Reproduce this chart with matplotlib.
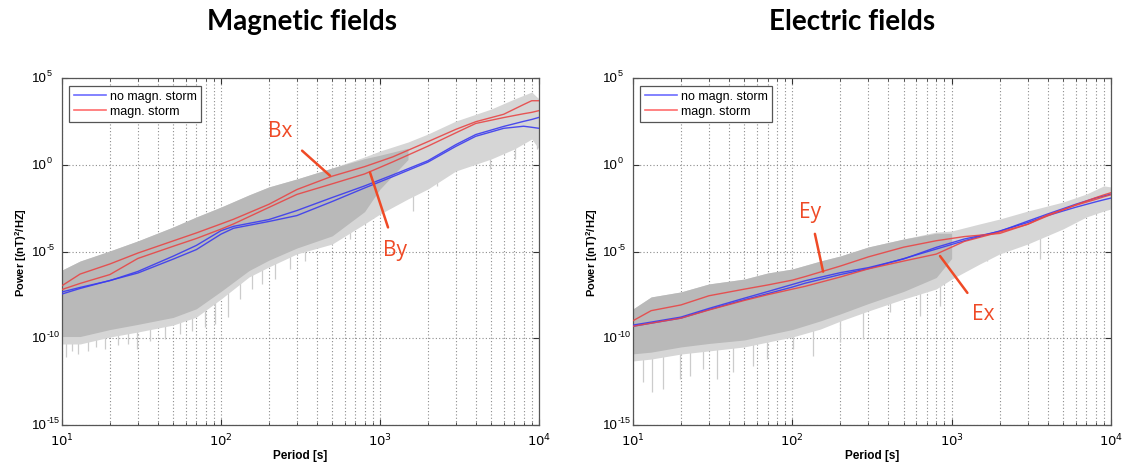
import numpy as np
import matplotlib
matplotlib.use("Agg")
import matplotlib.pyplot as plt
import matplotlib.transforms as mtransforms
from matplotlib.ticker import LogLocator, NullLocator, FixedLocator, NullFormatter
from matplotlib.lines import Line2D

plt.rcParams["mathtext.fontset"] = "custom"
plt.rcParams["mathtext.rm"] = "Liberation Sans"
plt.rcParams["mathtext.it"] = "Liberation Sans:italic"
plt.rcParams["mathtext.bf"] = "Liberation Sans:bold"

# ---------------- data (values are log10 of power) ----------------
periods = [10, 13, 20, 30, 50, 70, 100, 120, 200, 300, 500, 800, 1200,
           2000, 3000, 4000, 6000, 8000, 9000, 10000]

# Magnetic fields
bx_storm_log = [-6.97, -6.30, -5.72, -5.09, -4.39, -3.93, -3.41, -3.14, -2.28, -1.43,
                -0.66, -0.11, 0.45, 1.33, 2.04, 2.48, 2.91, 3.47, 3.69, 3.69]
by_storm_log = [-7.19, -6.84, -6.33, -5.40, -4.70, -4.25, -3.71, -3.41, -2.46, -1.71,
                -1.10, -0.53, 0.16, 1.07, 1.84, 2.38, 2.72, 2.94, 3.02, 3.12]
bx_quiet_log = [-7.33, -7.07, -6.68, -6.15, -5.27, -4.65, -3.80, -3.55, -3.16, -2.64,
                -1.89, -1.22, -0.59, 0.23, 1.16, 1.74, 2.21, 2.50, 2.61, 2.73]
by_quiet_log = [-7.45, -7.13, -6.67, -6.24, -5.44, -4.89, -4.00, -3.66, -3.27, -2.93,
                -2.12, -1.34, -0.69, 0.15, 1.06, 1.64, 2.10, 2.22, 2.16, 2.10]

# Electric fields
ey_storm_log = [-8.99, -8.41, -8.08, -7.55, -7.17, -6.93, -6.65, -6.45, -5.84, -5.31,
                -4.75, -4.38, -4.14, -3.96, -3.43, -2.89, -2.34, -2.00, -1.85, -1.73]
ex_storm_log = [-9.31, -9.13, -8.84, -8.37, -7.82, -7.49, -7.17, -7.01, -6.47, -6.00,
                -5.55, -5.15, -4.42, -3.88, -3.43, -2.95, -2.31, -1.90, -1.74, -1.61]
ey_quiet_log = [-9.24, -9.07, -8.78, -8.28, -7.69, -7.31, -6.90, -6.69, -6.22, -5.93,
                -5.43, -4.76, -4.28, -3.84, -3.25, -2.84, -2.28, -1.92, -1.80, -1.69]
ex_quiet_log = [-9.31, -9.13, -8.84, -8.35, -7.78, -7.43, -7.05, -6.83, -6.33, -5.99,
                -5.41, -4.86, -4.38, -3.82, -3.33, -2.93, -2.45, -2.14, -2.02, -1.92]

# Grey cloud of individual spectra: full (light) envelope
cloud_periods = [10, 13, 20, 30, 50, 70, 100, 150, 200, 300, 500, 800, 1000,
                 1500, 2000, 3000, 5000, 7000, 9000, 10000]
b_cloud_upper_log = [-6.07, -5.55, -4.97, -4.39, -3.59, -3.01, -2.44, -1.74, -1.28, -0.82,
                     -0.19, 0.45, 0.79, 1.31, 1.77, 2.52, 3.21, 3.79, 4.19, 3.79]
b_cloud_lower_log = [-10.33, -10.33, -9.93, -9.64, -9.24, -8.78, -7.74, -6.47, -5.89, -5.14,
                     -4.57, -3.41, -2.84, -1.97, -1.40, -0.36, 0.33, 0.91, 1.48, 0.91]
e_cloud_upper_log = [-8.31, -7.62, -7.33, -6.87, -6.59, -6.24, -6.01, -5.55, -5.26, -4.74,
                     -4.28, -3.88, -3.82, -3.41, -3.13, -2.67, -2.15, -1.69, -1.22, -1.28]
e_cloud_lower_log = [-11.31, -11.20, -10.91, -10.73, -10.50, -10.22, -9.93, -9.47, -9.01, -8.43,
                     -7.74, -7.16, -6.59, -5.72, -5.14, -4.57, -3.70, -3.01, -2.67, -2.55]

# Dense core of the grey cloud
b_core_periods = [10, 13, 20, 30, 50, 70, 100, 150, 200, 300, 500, 800, 1000, 1500]
b_core_upper_log = [-6.07, -5.55, -4.97, -4.39, -3.59, -3.01, -2.44, -1.74, -1.28, -0.82,
                    -0.19, 0.35, 0.55, 0.95]
b_core_lower_log = [-9.9, -9.9, -9.5, -9.2, -8.8, -8.3, -7.3, -6.1, -5.5, -4.8,
                    -4.1, -2.7, -1.4, 0.3]
e_core_periods = [10, 13, 20, 30, 50, 70, 100, 150, 200, 300, 500, 800, 1000]
e_core_upper_log = [-8.31, -7.62, -7.33, -6.87, -6.59, -6.24, -6.01, -5.55, -5.26, -4.74,
                    -4.28, -3.95, -3.95]
e_core_lower_log = [-10.9, -10.8, -10.5, -10.3, -10.1, -9.8, -9.5, -9.0, -8.6, -8.0,
                    -7.3, -6.5, -5.4]

# Deep downward spikes of the grey spectra
b_spike_periods = [10.6, 11.6, 12.6, 14.6, 16.4, 18.6, 22.5, 26, 29.6, 35.8, 44.4, 55.2,
                   65.7, 79.3, 91.6, 111, 132, 157, 181, 219, 272, 337, 464, 560, 648,
                   930, 1614, 1864, 2280, 3046, 4920, 7070, 9700]
b_spike_min_log = [-11.08, -10.73, -10.91, -10.73, -10.50, -10.62, -10.39, -10.33, -10.62,
                   -10.16, -10.04, -9.76, -9.58, -9.35, -9.18, -8.78, -7.74, -7.16, -6.87,
                   -6.59, -6.01, -5.55, -2.95, -3.70, -4.28, -2.84, -2.67, -1.40, -1.22,
                   -0.24, -0.24, 0.33, 0.91]
b_spike_top_log = [-9.0, -9.0, -9.0, -9.0, -8.8, -8.6, -8.4, -8.2, -8.0, -7.7, -7.4, -7.0,
                   -6.7, -6.4, -6.0, -5.6, -5.2, -4.9, -4.6, -4.3, -3.9, -3.5, -1.5, -1.2,
                   -1.0, -0.5, 0.5, 0.8, 1.0, 1.6, 2.2, 2.6, 2.9]
e_spike_periods = [11.6, 13.2, 15.4, 19.7, 22.8, 27.5, 33.7, 42.4, 56.6, 69.3, 101, 135,
                   199, 278, 410, 634, 846, 1667, 3590]
e_spike_min_log = [-12.52, -13.10, -12.93, -12.35, -12.18, -11.77, -12.35, -11.95, -11.60,
                   -11.20, -10.62, -11.02, -10.22, -10.04, -8.49, -8.72, -8.14, -5.55, -5.43]
e_spike_top_log = [-9.5, -9.4, -9.3, -9.1, -9.0, -8.8, -8.7, -8.5, -8.3, -8.1, -7.7, -7.4,
                   -7.0, -6.6, -6.1, -5.6, -5.3, -4.5, -3.5]

titles = ["Magnetic fields", "Electric fields"]
legend_labels = ["no magn. storm", "magn. storm"]
x_label = "Period [s]"
y_label = "Power [(nT)$^\\mathbf{2}$/HZ]"
y_tick_exponents = [-15, -10, -5, 0, 5]

# annotations: (text, text position (period, log10 power), target (period, log10 power))
b_annotations = [("Bx", (235, 1.95), (485, -0.63)),
                 ("By", (1250, -4.91), (865, -0.44))]
e_annotations = [("Ey", (129, -2.67), (156, -6.16)),
                 ("Ex", (1574, -8.6), (845, -5.26))]

# ---------------- style ----------------
BLUE = "#3b3bef"
RED = "#e84646"
GREY = "#b9b9b9"
LIGHT = "#d6d6d6"
SPIKE = "#cccccc"
ANN = "#ef4a26"

W, H = 1122, 464
fig = plt.figure(figsize=(W / 100, H / 100), dpi=100)
ax_b = fig.add_axes([62 / W, 1 - 426 / H, 477 / W, 347 / H])
ax_e = fig.add_axes([633 / W, 1 - 426 / H, 478 / W, 347 / H])

P = np.array(periods, dtype=float)
CP = np.array(cloud_periods, dtype=float)


def pw(v):
    return 10.0 ** np.asarray(v, dtype=float)


def draw(ax, up, lo, cper, cup, clo, sp, smin, stop, storm, quiet, anns, title_x, title):
    ax.set_xscale("log")
    ax.set_yscale("log")
    ax.set_xlim(10, 1e4)
    ax.set_ylim(1e-15, 1e5)
    ax.set_axisbelow(True)
    ax.vlines(sp, pw(smin), pw(stop), color=SPIKE, lw=0.9, zorder=1)
    ax.fill_between(CP, pw(lo), pw(up), color=LIGHT, lw=0, zorder=1.1)
    ax.fill_between(cper, pw(clo), pw(cup), color=GREY, lw=0, zorder=1.2)
    for s in quiet:
        ax.plot(P, pw(s), color=BLUE, lw=1.0, alpha=0.9, zorder=3)
    for s in storm:
        ax.plot(P, pw(s), color=RED, lw=1.0, alpha=0.9, zorder=3)
    for txt, tp, tg in anns:
        ax.annotate(txt, xy=(tg[0], 10 ** tg[1]), xytext=(tp[0], 10 ** tp[1]),
                    fontsize=15, color=ANN, family="Open Sans", ha="center", va="center",
                    arrowprops=dict(arrowstyle="-", color=ANN, lw=1.8, shrinkA=7, shrinkB=0),
                    zorder=5)

    ax.yaxis.set_major_locator(FixedLocator(pw(y_tick_exponents)))
    ax.yaxis.set_minor_locator(NullLocator())
    ax.yaxis.set_major_formatter(NullFormatter())
    ax.xaxis.set_major_locator(LogLocator(base=10, numticks=10))
    ax.xaxis.set_minor_locator(LogLocator(base=10, subs=np.arange(2, 10), numticks=20))
    ax.grid(True, which="major", axis="both", ls=(0, (1, 2)), color="#8c8c8c", lw=0.8)
    ax.grid(True, which="minor", axis="x", ls=(0, (1, 2)), color="#8c8c8c", lw=0.8)
    ax.tick_params(which="both", direction="in", top=True, right=True, color="#333333")
    ax.tick_params(which="major", length=4, labelsize=9.5, pad=5)
    ax.tick_params(which="minor", length=2)
    for s in ax.spines.values():
        s.set_color("#555555")
        s.set_linewidth(0.9)

    # MATLAB-style left aligned y tick labels: "10" plus a small raised exponent
    trans = mtransforms.blended_transform_factory(ax.transAxes, ax.transData)
    trans_exp = mtransforms.offset_copy(trans, fig=fig, x=15, y=5, units="dots")
    for e in y_tick_exponents:
        ax.text(-30 / 477, 10.0 ** e, "10", transform=trans, ha="left", va="center",
                fontsize=9.5, family="Liberation Sans", clip_on=False)
        ax.text(-30 / 477, 10.0 ** e, str(e), transform=trans_exp, ha="left",
                va="center", fontsize=6.5, family="Liberation Sans", clip_on=False)

    ax.set_xlabel(x_label, fontsize=8.5, fontweight="bold", family="Liberation Sans")
    ax.xaxis.set_label_coords(0.5, -30 / 347)
    ax.xaxis.label.set_va("center")
    ax.set_ylabel(y_label, fontsize=8, fontweight="bold", family="Liberation Sans")
    ax.yaxis.set_label_coords(-41 / 477, 0.5)
    ax.yaxis.label.set_va("center")

    handles = [Line2D([], [], color="#6d6dff", lw=1.2), Line2D([], [], color="#ff6d6d", lw=1.2)]
    leg = ax.legend(handles, legend_labels, loc="upper left", bbox_to_anchor=(0.01, 0.985),
                    frameon=True, fancybox=False, framealpha=1,
                    edgecolor="#555555", handlelength=2.6, handletextpad=0.3,
                    borderpad=0.35, labelspacing=0.25, borderaxespad=0.2,
                    prop={"family": "Liberation Sans", "size": 9})
    leg.get_frame().set_linewidth(0.9)
    fig.text(title_x, 1 - 22 / H, title, ha="center", va="center", fontsize=20,
             fontweight="bold", family="Lato")


draw(ax_b, b_cloud_upper_log, b_cloud_lower_log, b_core_periods, b_core_upper_log,
     b_core_lower_log, b_spike_periods, b_spike_min_log, b_spike_top_log,
     [bx_storm_log, by_storm_log], [bx_quiet_log, by_quiet_log],
     b_annotations, 302 / W, titles[0])
draw(ax_e, e_cloud_upper_log, e_cloud_lower_log, e_core_periods, e_core_upper_log,
     e_core_lower_log, e_spike_periods, e_spike_min_log, e_spike_top_log,
     [ey_storm_log, ex_storm_log], [ey_quiet_log, ex_quiet_log],
     e_annotations, 852 / W, titles[1])

fig.savefig("out.png", dpi=100)
